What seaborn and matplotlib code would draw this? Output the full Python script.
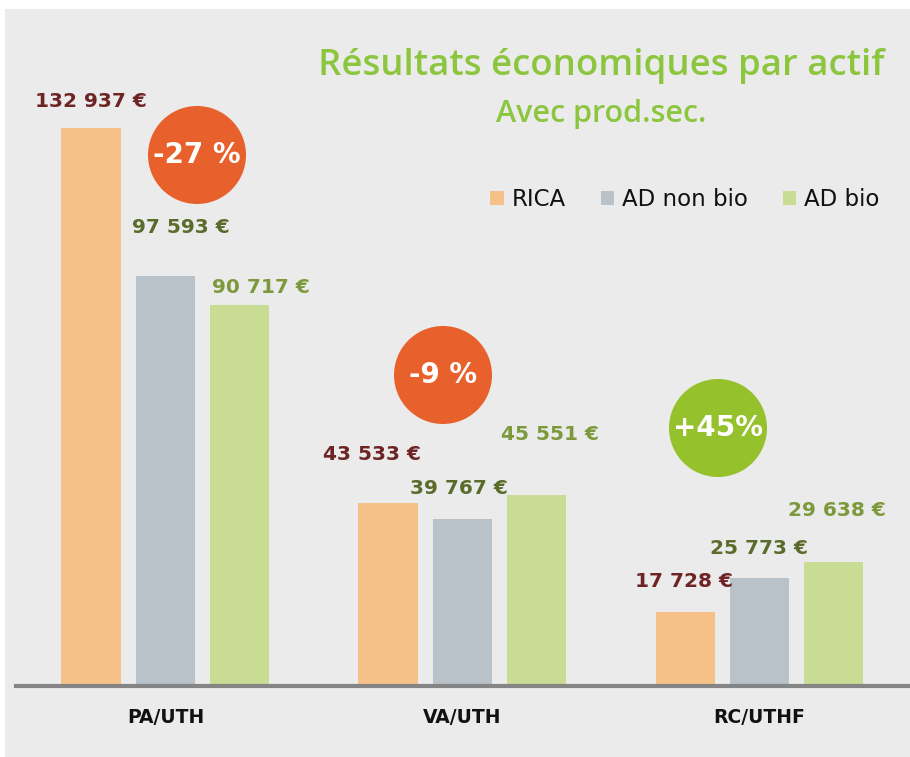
import matplotlib
matplotlib.use("Agg")
import matplotlib.pyplot as plt
from matplotlib.patches import Circle, Rectangle
import seaborn as sns
import pandas as pd

# --- données
categories = ["PA/UTH", "VA/UTH", "RC/UTHF"]
series = ["RICA", "AD non bio", "AD bio"]
rica = [132937, 43533, 17728]
ad_non_bio = [97593, 39767, 25773]
ad_bio = [90717, 45551, 29638]
badges = ["-27 %", "-9 %", "+45%"]

couleurs_barres = ["#f6c189", "#b9c1c9", "#c8dc93"]
couleurs_labels = ["#6e2424", "#5b6b2b", "#7c9a3c"]
couleurs_badges = ["#e8602b", "#e8602b", "#95c12c"]

# décalages des étiquettes (pixels : x, hauteur au-dessus de la barre)
decalages = [
    [(0, 27), (-16, 49), (-1, 30)],
    [(15, 49), (-4, 31), (0, 29)],
    [(21, 18), (13, 60), (3, 51)],
]
# position des pastilles (pixels, depuis le haut-gauche)
pos_badges = [(197, 155), (443, 375), (718, 428)]

dados = pd.DataFrame({
    "categorie": categories * 3,
    "serie": [s for s in series for _ in categories],
    "valeur": rica + ad_non_bio + ad_bio,
})

fig = plt.figure(figsize=(9.1, 7.57), dpi=100)
fig.patch.set_facecolor("white")
fig.add_artist(Rectangle((5 / 910, 0), 1, (757 - 9) / 757, transform=fig.transFigure,
                         facecolor="#ebebeb", edgecolor="none", zorder=-10))

ax = fig.add_axes([16 / 910, 71 / 757, 892 / 910, 676 / 757])
ax.set_facecolor("none")

sns.barplot(data=dados, x="categorie", y="valeur", hue="serie", order=categories,
            hue_order=series, palette=couleurs_barres, width=0.75, gap=0.2,
            saturation=1, ax=ax)

ax.set_xlim(-0.503, 2.5)
ax.set_ylim(0, 676 / 0.004197)

for spine in ["top", "right", "left"]:
    ax.spines[spine].set_visible(False)
ax.spines["bottom"].set_color("#858585")
ax.spines["bottom"].set_linewidth(3)
ax.set_yticks([])
ax.set_xlabel("")
ax.set_ylabel("")
ax.tick_params(axis="x", length=0, pad=16)
for t in ax.get_xticklabels():
    t.set_fontweight("bold")
    t.set_fontsize(13.5)
    t.set_color("#111111")

# --- étiquettes de valeur
for i, cont in enumerate(ax.containers):
    for j, bar in enumerate(cont):
        v = bar.get_height()
        dx, dy = decalages[i][j]
        txt = f"{int(v):,} €".replace(",", " ")
        ax.annotate(txt, (bar.get_x() + bar.get_width() / 2, v),
                    xytext=(dx, dy), textcoords="offset pixels",
                    ha="center", va="center", fontsize=14.5, fontweight="bold",
                    color=couleurs_labels[i])

# --- légende
leg = ax.legend(ncol=3, loc="upper right", bbox_to_anchor=(889 / 910, (757 - 179) / 757),
                bbox_transform=fig.transFigure, frameon=False, fontsize=16.5,
                handlelength=0.6, handleheight=0.6, handletextpad=0.35,
                columnspacing=1.5, borderaxespad=0)
for t in leg.get_texts():
    t.set_color("#111111")

# --- pastilles
for (px, py), lab, c in zip(pos_badges, badges, couleurs_badges):
    fig.add_artist(Circle((px / 100, (757 - py) / 100), 0.49,
                          transform=fig.dpi_scale_trans, facecolor=c, edgecolor="none"))
    fig.text(px / 910, (757 - py) / 757, lab, ha="center", va="center",
             fontsize=20, fontweight="bold", color="white")

# --- titre
fig.text(601 / 910, (757 - 66) / 757, "Résultats économiques par actif",
         ha="center", va="center", fontsize=26.3, color="#8cc63f",
         family="Open Sans", fontweight="semibold")
fig.text(601 / 910, (757 - 114) / 757, "Avec prod.sec.",
         ha="center", va="center", fontsize=22, color="#8cc63f",
         family="Open Sans", fontweight="semibold")

fig.savefig("out.png", dpi=100)
